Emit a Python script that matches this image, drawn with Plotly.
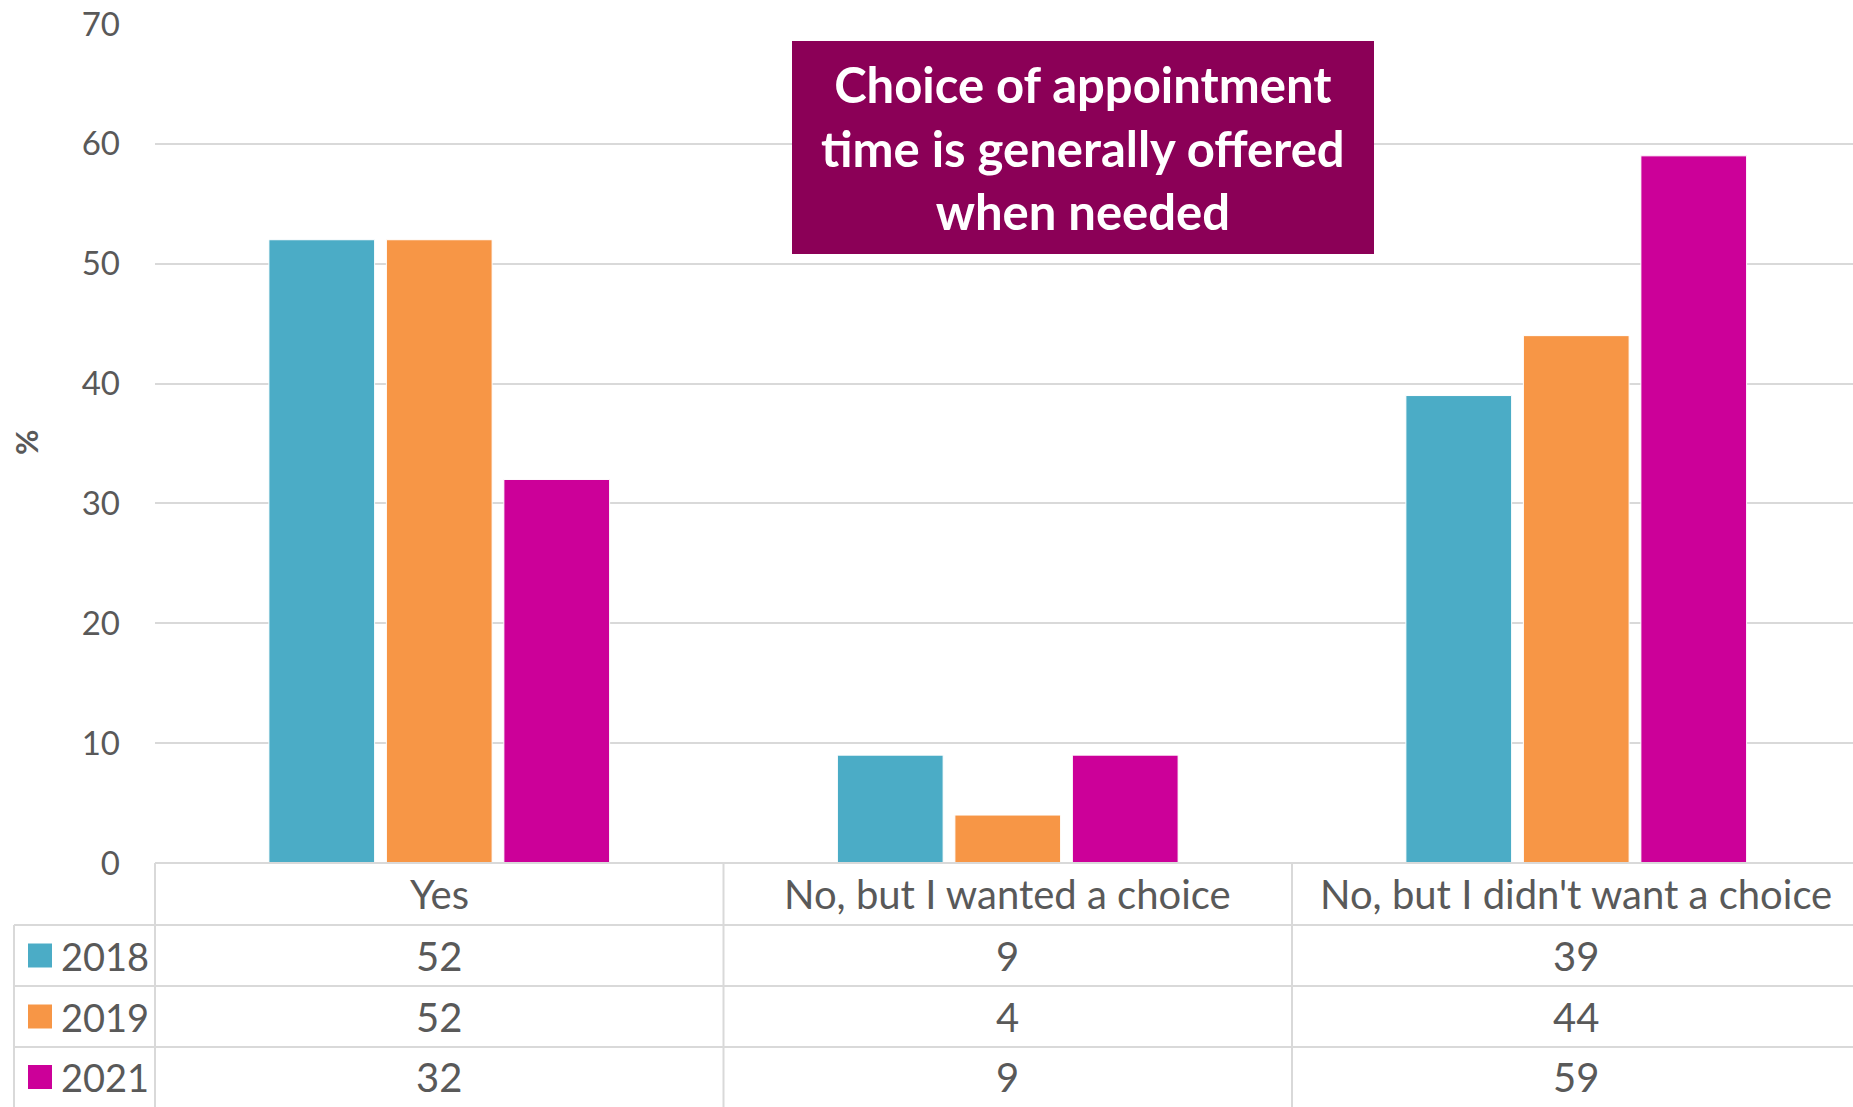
import plotly.graph_objects as go

# Survey responses (%) by year
categories = ["Yes", "No, but I wanted a choice", "No, but I didn't want a choice"]
years = ["2018", "2019", "2021"]
values_2018 = [52, 9, 39]
values_2019 = [52, 4, 44]
values_2021 = [32, 9, 59]
series = [values_2018, values_2019, values_2021]
colors = ["#4BACC6", "#F79646", "#CC0099"]
y_ticks = [0, 10, 20, 30, 40, 50, 60, 70]
title_text = "Choice of appointment<br>time is generally offered<br>when needed"

W, H = 1853, 1107
L, R, T, B = 155, 1853, 24, 863   # plot area in pixels
CAT_W = 568.5                     # width of one category band in pixels
GRID = "#D9D9D9"
TXT = "#595959"
FONT = "Lato"
TABLE_SIZE = 40


def px(xp):
    return (xp - L) / (R - L)


def py(yp):
    return (B - yp) / (B - T)


fig = go.Figure()
for yr, vals, col in zip(years, series, colors):
    fig.add_trace(go.Bar(
        x=categories, y=vals, name=yr,
        marker=dict(color=col, line=dict(color="white", width=1)),
        showlegend=False,
    ))

shapes = []
annotations = []

# data table under the chart
row_lines = [925, 986, 1047]
row_centers = [894, 955.5, 1016.5, 1077]
col_lines = [L + CAT_W, L + 2 * CAT_W]
line = dict(color=GRID, width=2)

shapes.append(dict(type="line", xref="paper", yref="paper",
                   x0=px(L), x1=px(R), y0=py(B), y1=py(B), line=line))
shapes.append(dict(type="line", xref="paper", yref="paper",
                   x0=px(L), x1=px(L), y0=py(B), y1=py(H), line=line))
shapes.append(dict(type="line", xref="paper", yref="paper",
                   x0=px(14), x1=px(14), y0=py(row_lines[0]), y1=py(H), line=line))
for cx in col_lines:
    shapes.append(dict(type="line", xref="paper", yref="paper",
                       x0=px(cx), x1=px(cx), y0=py(B), y1=py(H), line=line))
for ry in row_lines:
    shapes.append(dict(type="line", xref="paper", yref="paper",
                       x0=px(14), x1=px(R), y0=py(ry), y1=py(ry), line=line))

# header row: category names
for cat in categories:
    annotations.append(dict(x=cat, y=py(row_centers[0]), xref="x", yref="paper",
                            text=cat, showarrow=False,
                            xanchor="center", yanchor="middle",
                            font=dict(family=FONT, size=TABLE_SIZE, color=TXT)))

# value rows with legend keys
for i, (yr, vals, col) in enumerate(zip(years, series, colors)):
    cy = row_centers[i + 1]
    shapes.append(dict(type="rect", xref="paper", yref="paper",
                       x0=px(28), x1=px(52), y0=py(cy - 12), y1=py(cy + 12),
                       fillcolor=col, line=dict(width=0)))
    annotations.append(dict(x=px(59), y=py(cy), xref="paper", yref="paper",
                            text=yr, showarrow=False,
                            xanchor="left", yanchor="middle",
                            font=dict(family=FONT, size=38, color=TXT)))
    for cat, v in zip(categories, vals):
        annotations.append(dict(x=cat, y=py(cy), xref="x", yref="paper",
                                text=str(v), showarrow=False,
                                xanchor="center", yanchor="middle",
                                font=dict(family=FONT, size=TABLE_SIZE, color=TXT)))

# title box
shapes.append(dict(type="rect", xref="paper", yref="paper",
                   x0=px(792), x1=px(1374), y0=py(41), y1=py(254),
                   fillcolor="#8B0057", line=dict(width=0), layer="above"))
annotations.append(dict(x=px(1083), y=py(147.5), xref="paper", yref="paper",
                        text="<b>" + title_text + "</b>", showarrow=False,
                        align="center", xanchor="center", yanchor="middle",
                        font=dict(family=FONT, size=49, color="white")))

# y-axis title
annotations.append(dict(x=px(26), y=py(443), xref="paper", yref="paper",
                        text="<b>%</b>", showarrow=False, textangle=-90,
                        xanchor="center", yanchor="middle",
                        font=dict(family=FONT, size=31, color=TXT)))

fig.update_layout(
    width=W, height=H, autosize=False,
    margin=dict(l=L, r=W - R, t=T, b=H - B, pad=0),
    paper_bgcolor="white", plot_bgcolor="white",
    barmode="group", bargap=0.38, bargroupgap=0.1,
    shapes=shapes, annotations=annotations,
    xaxis=dict(showticklabels=False, showgrid=False, showline=False,
               zeroline=False, ticks="",
               range=[-0.5, -0.5 + (R - L) / CAT_W]),
    yaxis=dict(range=[0, 70], tickvals=y_ticks, showgrid=True,
               gridcolor=GRID, gridwidth=2, zeroline=False, showline=False,
               ticklabelstandoff=34,
               tickfont=dict(family=FONT, size=33, color=TXT)),
)

fig.write_html("out.html")
